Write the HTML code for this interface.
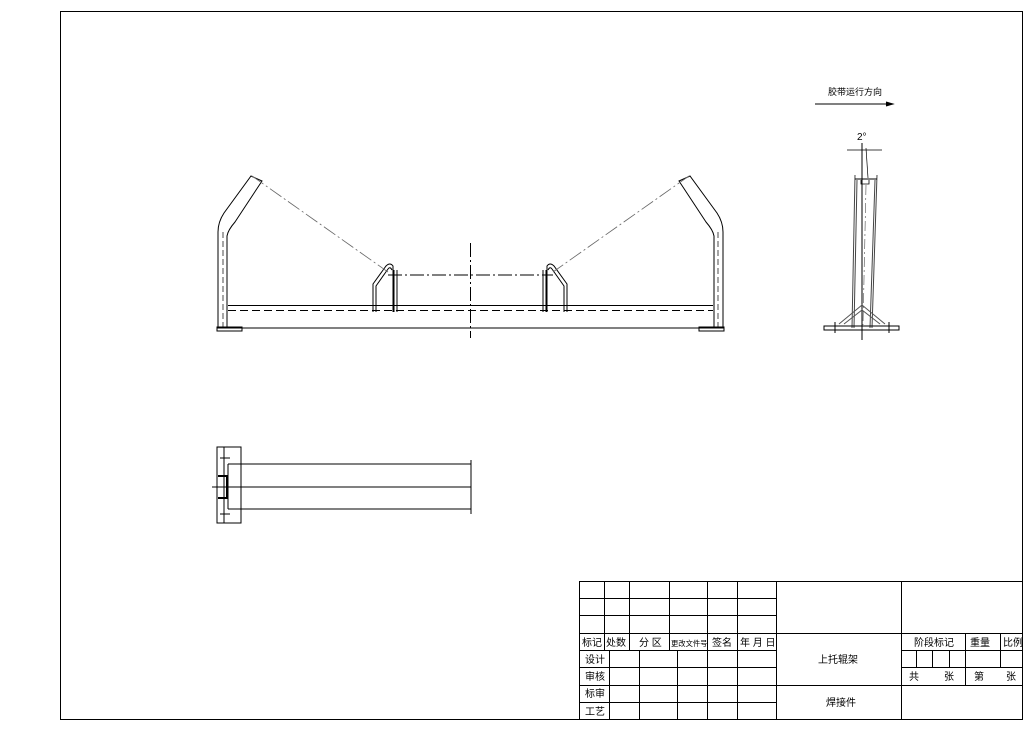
<!DOCTYPE html>
<html><head><meta charset="utf-8"><style>
body{margin:0;background:#fff}
svg{display:block}
text{font-family:"Liberation Sans","Noto Sans CJK SC",sans-serif;fill:#000}
</style></head><body>
<svg width="1034" height="731" viewBox="0 0 1034 731" xmlns="http://www.w3.org/2000/svg">
<rect x="0" y="0" width="1034" height="731" fill="#fff"/>
<rect x="60.5" y="11.5" width="962" height="708" fill="none" stroke="#000" stroke-width="1"/>

<g stroke="#000" fill="none" stroke-width="1">
<line x1="217" y1="328" x2="724" y2="328"/>
<line x1="228" y1="305.5" x2="713" y2="305.5"/>
<line x1="228" y1="310.5" x2="713" y2="310.5" stroke-dasharray="8,4"/>
<line x1="470.5" y1="243" x2="470.5" y2="338" stroke-dasharray="14,3,2,3"/>
<path d="M218 328 V232 Q218 222 224 213 L251 176 L262 181 L235 222 Q228 230 227 236 V328"/>
<line x1="223" y1="232" x2="223" y2="328" stroke-dasharray="6,3" stroke-width="0.7"/>
<rect x="217" y="327" width="25" height="4"/>
<path d="M723 328 V232 Q723 222 717 213 L690 176 L679 181 L706 222 Q713 230 714 236 V328"/>
<line x1="718" y1="232" x2="718" y2="328" stroke-dasharray="6,3" stroke-width="0.7"/>
<rect x="699" y="327" width="25" height="4"/>
<path d="M373 312 V284 L386 266 Q390 262 393 266 V312 M376 312 V286 L388 269 Q390 266 392 270"/>
<path d="M394 270 V312 M397 270 V312"/>
<path d="M567 312 V284 L554 266 Q550 262 547 266 V312 M564 312 V286 L552 269 Q550 266 548 270"/>
<path d="M546 270 V312 M543 270 V312"/>
<line x1="388" y1="275" x2="553" y2="275" stroke-dasharray="14,3,2,3"/>
<line x1="252" y1="176" x2="388" y2="272" stroke="#666" stroke-dasharray="14,3,2,3" stroke-width="0.8"/>
<line x1="689" y1="176" x2="553" y2="272" stroke="#666" stroke-dasharray="14,3,2,3" stroke-width="0.8"/>

<line x1="815" y1="104" x2="893" y2="104"/>
<path d="M886 102 L893 104 L886 106" fill="#000"/>
<line x1="862" y1="143" x2="862" y2="340"/>
<line x1="866" y1="148" x2="868" y2="178" stroke-width="0.7"/>
<line x1="847" y1="150" x2="882" y2="150" stroke-width="0.8"/>
<path d="M855 175 L852 328 M857 180 L854 328 M877 175 L872 328 M875 180 L870 328" stroke="#444"/>
<line x1="855" y1="179" x2="877" y2="179"/>
<path d="M861 180 v4 h8 v-4" stroke-width="0.8"/>
<line x1="866" y1="185" x2="863" y2="325" stroke="#666" stroke-dasharray="10,3,2,3" stroke-width="0.7"/>
<path d="M839 324 L862 305 L885 324 M844 324 L862 310 L880 324" stroke="#555"/>
<rect x="824" y="326" width="75" height="4"/>
<line x1="835" y1="322" x2="835" y2="333"/>
<line x1="889" y1="322" x2="889" y2="333"/>

<rect x="217" y="447" width="24" height="76"/>
<line x1="241" y1="456" x2="241" y2="520" stroke-dasharray="6,3"/>
<line x1="228" y1="464" x2="471" y2="464"/>
<line x1="212" y1="487" x2="471" y2="487"/>
<line x1="228" y1="509" x2="471" y2="509"/>
<line x1="228" y1="464" x2="228" y2="509"/>
<line x1="471" y1="460" x2="471" y2="514"/>
<line x1="224" y1="447" x2="224" y2="523"/>
<line x1="220" y1="458" x2="230" y2="458"/>
<line x1="220" y1="514" x2="230" y2="514"/>
<path d="M218 476 h9 v22 h-9" stroke-width="2"/>

<rect x="579.5" y="581.5" width="443" height="138"/>
<path d="M579 598.5 H776 M579 615.5 H776 M579 633.5 H1022 M579 650.5 H776 M901 650.5 H1022 M579 667.5 H776 M901 667.5 H1022 M579 685.5 H1022 M579 702.5 H776"/>
<path d="M604.5 581 V650 M629.5 581 V650 M669.5 581 V650 M707.5 581 V719 M737.5 581 V719 M776.5 581 V719 M901.5 581 V719"/>
<path d="M609.5 650 V719 M639.5 650 V719 M677.5 650 V719"/>
<path d="M965.5 633 V685 M1000.5 633 V667 M916.5 650 V667 M932.5 650 V667 M949.5 650 V667"/>
</g>

<g font-size="10">
<text x="828" y="95" font-size="9">胶带运行方向</text>
<text x="857" y="140" font-size="10" fill="#555">2°</text>
<text x="582" y="646">标记</text>
<text x="606" y="646">处数</text>
<text x="639" y="646">分 区</text>
<text x="671" y="646" font-size="7.3">更改文件号</text>
<text x="712" y="646">签名</text>
<text x="740" y="646">年 月 日</text>
<text x="585" y="663">设计</text>
<text x="585" y="680">审核</text>
<text x="585" y="697">标审</text>
<text x="585" y="715">工艺</text>
<text x="818" y="663">上托辊架</text>
<text x="826" y="706">焊接件</text>
<text x="914" y="646">阶段标记</text>
<text x="970" y="646">重量</text>
<text x="1003" y="646">比例</text>
<text x="909" y="680">共</text>
<text x="944" y="680">张</text>
<text x="974" y="680">第</text>
<text x="1006" y="680">张</text>
</g>
</svg>
</body></html>
